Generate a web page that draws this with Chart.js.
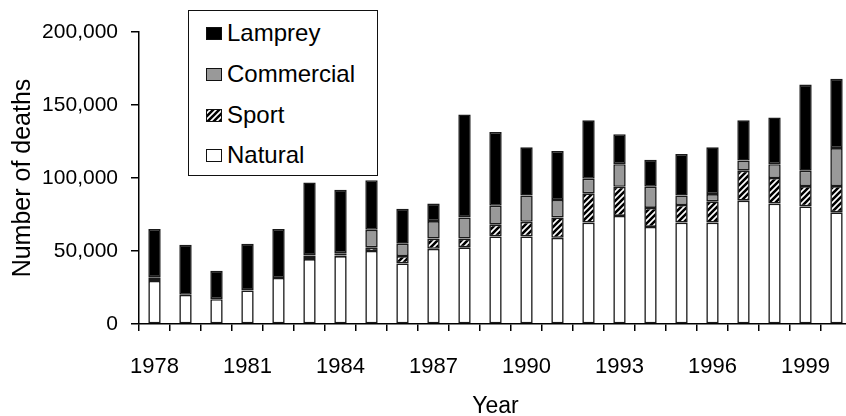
<!DOCTYPE html>
<html>
<head>
<meta charset="utf-8">
<script src="https://cdn.jsdelivr.net/npm/chart.js@4.4.1/dist/chart.umd.min.js"></script>
<style>
  html, body { margin: 0; padding: 0; background: #fff; overflow: hidden; }
  #wrap { position: relative; width: 860px; height: 416px; }
  #legend {
    position: absolute; left: 188px; top: 10px; width: 190px; height: 166px;
    box-sizing: border-box; border: 1.5px solid #111; background: #fff;
    font-family: "Liberation Sans", Arial, sans-serif; font-size: 24px; color: #000;
  }
  .item { position: absolute; left: 17px; height: 26px; line-height: 26px; display: flex; align-items: center; white-space: nowrap; }
  .swatch { width: 14px; height: 11px; border: 1px solid #111; margin-right: 5px; background-size: 6px 6px; }
</style>
</head>
<body>
<div id="wrap">
  <canvas id="deathsChart"></canvas>
  <div id="legend"></div>
</div>
<script>
const years = ['1978', '1979', '1980', '1981', '1982', '1983', '1984', '1985', '1986', '1987', '1988', '1989',
               '1990', '1991', '1992', '1993', '1994', '1995', '1996', '1997', '1998', '1999', '2000'];
const shownYears = ['1978', '1981', '1984', '1987', '1990', '1993', '1996', '1999'];

// deaths per year, by cause
const natural =    [29500, 20000, 17000, 23000, 31500, 44500, 46500, 50000, 41500, 51500, 52500, 60000,
                    60000, 59000, 69500, 74000, 66500, 69500, 69500, 84500, 82500, 80500, 76500];
const sport =      [2000, 0, 0, 0, 0, 2000, 500, 2500, 5000, 7000, 6000, 8000,
                    10000, 14000, 20000, 20000, 13000, 12000, 14500, 20500, 17500, 14000, 18000];
const commercial = [500, 0, 0, 0, 0, 500, 1500, 12000, 8500, 12000, 14500, 13000,
                    18000, 12000, 10000, 15500, 14500, 6500, 5000, 7000, 9500, 10500, 26000];
const lamprey =    [33000, 34300, 19500, 32000, 33500, 50000, 43500, 34000, 24000, 12000, 70500, 50500,
                    33000, 33500, 40000, 20500, 18500, 28500, 32000, 27500, 32000, 59000, 47500];

const yTicks = [0, 50000, 100000, 150000, 200000];

function makeHatch() {
    const c = document.createElement('canvas');
    c.width = 6; c.height = 6;
    const g = c.getContext('2d');
    g.fillStyle = '#fff';
    g.fillRect(0, 0, 6, 6);
    g.strokeStyle = '#000';
    g.lineWidth = 2.6;
    g.beginPath();
    g.moveTo(-1, 7); g.lineTo(7, -1);
    g.moveTo(-4, 4); g.lineTo(4, -4);
    g.moveTo(2, 10); g.lineTo(10, 2);
    g.stroke();
    return c;
}

const hatchCanvas = makeHatch();
const ctx = document.getElementById('deathsChart').getContext('2d');
const hatch = ctx.createPattern(hatchCanvas, 'repeat');

const tickFont = { family: '"Liberation Sans", Arial, sans-serif', size: 21 };

function bars(label, data, fill) {
    return {
        label: label,
        data: data,
        backgroundColor: fill,
        borderColor: '#1a1a1a',
        borderWidth: 1.6,
        borderSkipped: false,
        categoryPercentage: 1,
        barPercentage: 0.4
    };
}

const chart = new Chart(ctx, {
    type: 'bar',
    data: {
        labels: years,
        datasets: [
            bars('Natural', natural, '#ffffff'),
            bars('Sport', sport, hatch),
            bars('Commercial', commercial, '#999999'),
            bars('Lamprey', lamprey, '#000000')
        ]
    },
    options: {
        responsive: true,
        maintainAspectRatio: false,
        animation: false,
        layout: { padding: { top: 32, right: 8, bottom: 0, left: 0 } },
        plugins: { legend: { display: false }, tooltip: { enabled: false } },
        scales: {
            x: {
                stacked: true,
                grid: { drawOnChartArea: false, tickLength: 7, color: '#000', lineWidth: 1.5, offset: true },
                border: { color: '#000', width: 1.5 },
                ticks: {
                    autoSkip: false, maxRotation: 0, padding: 23, color: '#000',
                    font: { family: tickFont.family, size: 22 },
                    callback: (v, i) => shownYears.includes(years[i]) ? years[i] : ''
                },
                title: {
                    display: true, text: 'Year', color: '#000',
                    font: { family: tickFont.family, size: 23, lineHeight: 0.85 },
                    padding: { top: 0, bottom: 0 }
                },
                afterFit: s => { s.height = 92; }
            },
            y: {
                stacked: true,
                min: 0,
                max: 200000,
                afterBuildTicks: s => { s.ticks = yTicks.map(v => ({ value: v })); },
                grid: { drawOnChartArea: false, tickLength: 8, color: '#000', lineWidth: 1.5 },
                border: { color: '#000', width: 1.5 },
                ticks: {
                    padding: 13, color: '#000', font: tickFont,
                    callback: v => v.toLocaleString('en-US')
                },
                title: {
                    display: true, text: 'Number of deaths', color: '#000',
                    font: { family: tickFont.family, size: 25, lineHeight: 1 },
                    padding: { top: 11, bottom: 0 }
                },
                afterFit: s => { s.width = 139; }
            }
        }
    }
});

// html legend, top entry = top of the stack
const legendBox = document.getElementById('legend');
const rowTops = [9, 50, 91, 131];
chart.data.datasets.slice().reverse().forEach((ds, i) => {
    const row = document.createElement('div');
    row.className = 'item';
    row.style.top = rowTops[i] + 'px';
    const sw = document.createElement('span');
    sw.className = 'swatch';
    if (ds.label === 'Sport') sw.style.backgroundImage = 'url(' + hatchCanvas.toDataURL() + ')';
    else sw.style.background = ds.backgroundColor;
    row.appendChild(sw);
    row.appendChild(document.createTextNode(ds.label));
    legendBox.appendChild(row);
});
</script>
</body>
</html>
